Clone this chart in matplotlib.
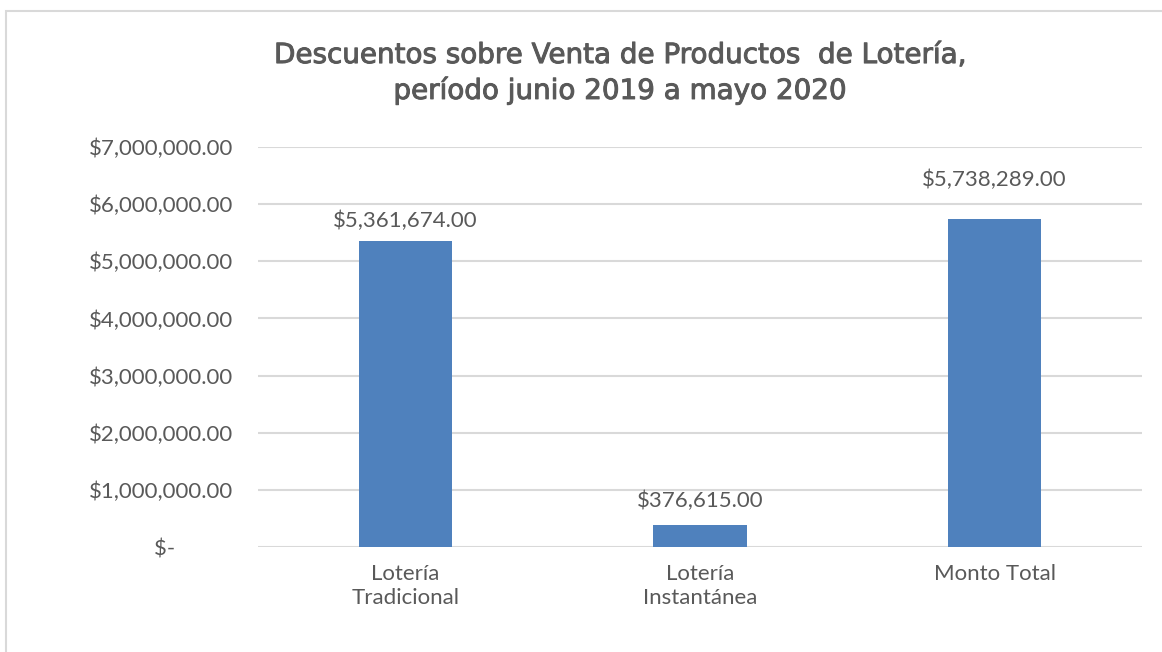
import matplotlib.pyplot as plt
import matplotlib.patheffects as pe
from matplotlib.patches import Rectangle
from matplotlib.ticker import FuncFormatter

categories = ["Lotería\nTradicional", "Lotería\nInstantánea", "Monto Total"]
values = [5361674.00, 376615.00, 5738289.00]
value_labels = ["$5,361,674.00", "$376,615.00", "$5,738,289.00"]
title = "Descuentos sobre Venta de Productos  de Lotería,\nperíodo junio 2019 a mayo 2020"

plt.rcParams['font.family'] = ['Lato', 'DejaVu Sans']
txt = '#595959'
grid = '#d9d9d9'
bar_color = '#4f81bd'

fig = plt.figure(figsize=(11.62, 6.52), dpi=100)
fig.patches.append(Rectangle((6 / 1162, -0.1), 1.2, (652 - 11) / 652 + 0.1,
                             transform=fig.transFigure, fill=False,
                             edgecolor=grid, linewidth=1.5))

ax = fig.add_axes([258 / 1162, 105 / 652, 884 / 1162, 400 / 652])
x = list(range(len(categories)))
ax.bar(x, values, width=0.316, color=bar_color, zorder=3)
ax.set_xlim(-0.5, 2.5)
ax.set_ylim(0, 7000000)
ax.set_yticks(range(0, 7000001, 1000000))


def money(v, pos):
    if v == 0:
        return "$-          "
    return "${:,.2f}".format(v)


ax.yaxis.set_major_formatter(FuncFormatter(money))
ax.grid(axis='y', color=grid, linewidth=1.5, zorder=0)
for s in ax.spines.values():
    s.set_visible(False)
ax.tick_params(axis='both', length=0, labelsize=16, labelcolor=txt)
ax.tick_params(axis='y', pad=18)
ax.tick_params(axis='x', pad=12)
ax.set_xticks(x)
ax.set_xticklabels(categories, linespacing=1.25)

# label offsets as placed in the original chart (points)
label_offsets = [14, 18, 28]
for xi, v, lab, off in zip(x, values, value_labels, label_offsets):
    ax.annotate(lab, (xi, v), xytext=(0, off), textcoords='offset points',
                ha='center', va='center', fontsize=16, color=txt)

fig.text(620 / 1162, 1 - 73 / 652, title, ha='center', va='center',
         fontsize=20, color=txt, family='DejaVu Sans', linespacing=1.3,
         path_effects=[pe.withStroke(linewidth=0.7, foreground=txt)])

fig.savefig('out.png', dpi=100)
